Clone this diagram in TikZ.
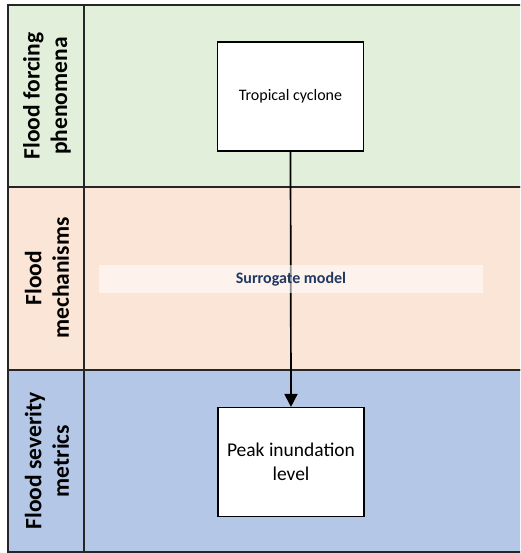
\documentclass[tikz,border=0pt]{standalone}
\usepackage{fontspec}
\setmainfont{Carlito}
\usetikzlibrary{arrows.meta}
\definecolor{rowgreen}{HTML}{E2EFDA}
\definecolor{rowpeach}{HTML}{FBE5D6}
\definecolor{rowblue}{HTML}{B4C7E7}
\definecolor{surrblue}{HTML}{203864}
\tikzset{
  rowbox/.style={draw=black!85, line width=1.6pt},
  lanelabel/.style={rotate=90, align=center, font=\fontsize{23.5}{27.5}\selectfont\bfseries},
  procbox/.style={draw=black, line width=1.1pt, fill=white, minimum width=146pt, minimum height=109pt, align=center, inner sep=2pt},
  flowarrow/.style={line width=1.7pt, -{Triangle[length=13pt,width=13pt]}},
}
\begin{document}
\begin{tikzpicture}[x=1pt,y=-1pt]
\useasboundingbox (0,0) rectangle (520,553);
\clip (0,0) rectangle (520,553);
% lanes
\draw[rowbox, fill=rowgreen] (8,5) rectangle (545,187);
\draw[rowbox, fill=rowpeach] (8,187) rectangle (545,370);
\draw[rowbox, fill=rowblue] (8,370) rectangle (545,552);
\draw[rowbox] (84,5) -- (84,552);
% lane labels
\node[lanelabel] (l1) at (47,96) {Flood forcing\\phenomena};
\node[lanelabel] (l2) at (47,278) {Flood\\mechanisms};
\node[lanelabel] (l3) at (47,461) {Flood severity\\metrics};
% process boxes
\node[procbox, font=\fontsize{16}{19}\selectfont] (tc) at (290.5,96.5) {Tropical cyclone};
\node[procbox, font=\fontsize{19.5}{24}\selectfont] (peak) at (291,462) {Peak inundation\\level};
\draw[flowarrow] (tc.south) -- (peak.north);
% surrogate band
\fill[white, opacity=0.55] (99,265) rectangle (483,293);
\node[font=\fontsize{16}{19}\selectfont\bfseries, text=surrblue] (surr) at (291,279) {Surrogate model};
\end{tikzpicture}
\end{document}
